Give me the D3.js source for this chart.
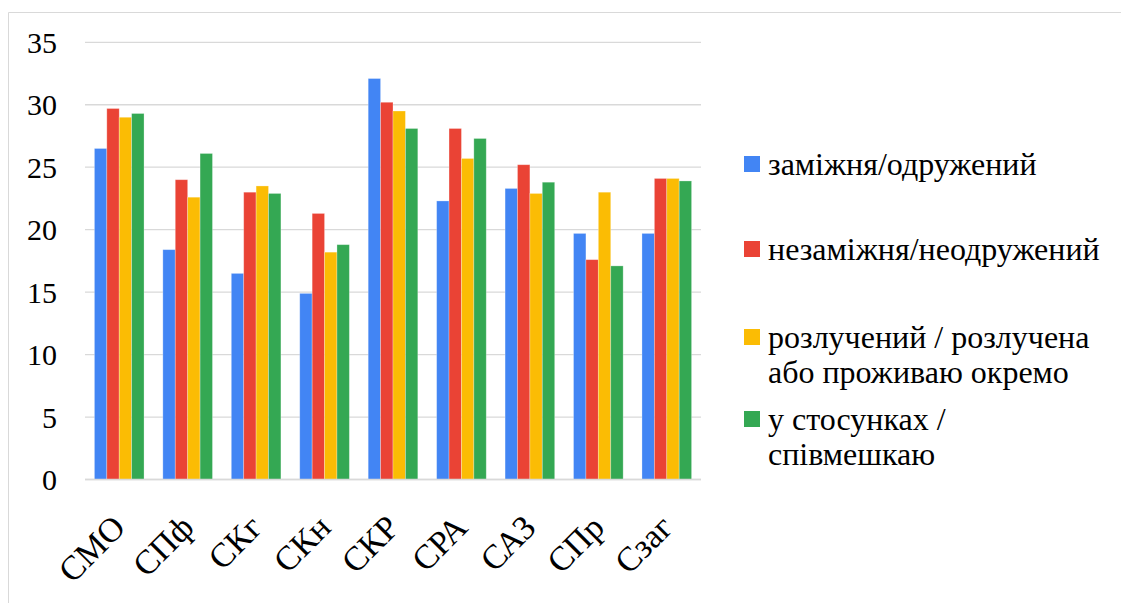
<!DOCTYPE html>
<html>
<head>
<meta charset="utf-8">
<script src="https://cdn.jsdelivr.net/npm/d3@7"></script>
<style>
  html, body { margin: 0; padding: 0; background: #fff; }
  svg { display: block; }
</style>
</head>
<body>
<svg id="chart" width="1121" height="603"></svg>
<script>
// Categories along the x axis
const categories = ["СМО", "СПф", "СКг", "СКн", "СКР", "СРА", "САЗ", "СПр", "Сзаг"];

// Series names (legend) — each entry split into display lines
const seriesNames = [
  ["заміжня/одружений"],
  ["незаміжня/неодружений"],
  ["розлучений / розлучена", "або проживаю окремо"],
  ["у стосунках /", "співмешкаю"]
];

// Series values, one per category
const married     = [26.5, 18.4, 16.5, 14.9, 32.1, 22.3, 23.3, 19.7, 19.7];
const unmarried   = [29.7, 24.0, 23.0, 21.3, 30.2, 28.1, 25.2, 17.6, 24.1];
const divorced    = [29.0, 22.6, 23.5, 18.2, 29.5, 25.7, 22.9, 23.0, 24.1];
const cohabiting  = [29.3, 26.1, 22.9, 18.8, 28.1, 27.3, 23.8, 17.1, 23.9];

// Y axis ticks
const yTicks = [0, 5, 10, 15, 20, 25, 30, 35];

const seriesValues = [married, unmarried, divorced, cohabiting];
const colors = ["#4285F4", "#EA4335", "#FBBC04", "#34A853"];
const FONT = 'Tinos, "Liberation Serif", "Times New Roman", serif';

const svg = d3.select("#chart").attr("font-family", FONT);

// Chart frame (top and left edges)
svg.append("line").attr("x1", 8.5).attr("x2", 1121).attr("y1", 12.5).attr("y2", 12.5)
  .attr("stroke", "#d9d9d9").attr("stroke-width", 1);
svg.append("line").attr("x1", 8.5).attr("x2", 8.5).attr("y1", 12.5).attr("y2", 603)
  .attr("stroke", "#d9d9d9").attr("stroke-width", 1);

const plot = { left: 85, right: 701, top: 42.3, bottom: 479.5 };

const x0 = d3.scaleBand().domain(categories).range([plot.left, plot.right]).paddingInner(0.275).paddingOuter(0.1375);
const x1 = d3.scaleBand().domain(d3.range(seriesValues.length)).range([0, x0.bandwidth()]);
const y = d3.scaleLinear().domain([0, 35]).range([plot.bottom, plot.top]);

// Horizontal gridlines
svg.append("g").selectAll("line").data(yTicks).join("line")
  .attr("x1", plot.left).attr("x2", plot.right)
  .attr("y1", d => y(d)).attr("y2", d => y(d))
  .attr("stroke", "#d9d9d9").attr("stroke-width", 1.3);

// Y axis labels
const yAxis = svg.append("g").attr("transform", `translate(${plot.left},0)`)
  .call(d3.axisLeft(y).tickValues(yTicks).tickSize(0).tickPadding(28));
yAxis.attr("font-family", FONT);
yAxis.select(".domain").remove();
yAxis.selectAll("text").style("font-family", FONT)
  .style("font-size", "30px").attr("fill", "#000").attr("dy", "0.34em");

// Bars
const groups = svg.append("g").selectAll("g").data(categories).join("g")
  .attr("transform", d => `translate(${x0(d)},0)`);
groups.selectAll("rect")
  .data((c, ci) => seriesValues.map((vals, si) => ({ si, v: vals[ci] })))
  .join("rect")
  .attr("x", d => x1(d.si))
  .attr("width", x1.bandwidth())
  .attr("y", d => y(d.v))
  .attr("height", d => y(0) - y(d.v))
  .attr("fill", d => colors[d.si])
  .attr("stroke", "#ffffff").attr("stroke-opacity", 0.35).attr("stroke-width", 0.8);

// X axis baseline
svg.append("line").attr("x1", plot.left).attr("x2", plot.right)
  .attr("y1", y(0)).attr("y2", y(0)).attr("stroke", "#d9d9d9").attr("stroke-width", 1.3);

// X axis labels, rotated
const xAxis = svg.append("g").attr("transform", `translate(0,${plot.bottom})`)
  .call(d3.axisBottom(x0).tickSize(0).tickPadding(0));
xAxis.attr("font-family", FONT);
xAxis.select(".domain").remove();
xAxis.selectAll("text")
  .style("font-family", FONT)
  .style("font-size", "34px").attr("fill", "#000")
  .attr("text-anchor", "end")
  .attr("dy", null).attr("y", 0)
  .attr("transform", "translate(8,50) rotate(-45)");

// Legend
const legendX = 744;
const legendBaselines = [175, 260, 348, 430];
const lineGap = 35;
const legend = svg.append("g").selectAll("g").data(seriesNames).join("g")
  .attr("transform", (d, i) => `translate(${legendX},${legendBaselines[i]})`);
legend.append("rect").attr("x", 0).attr("y", -19).attr("width", 16).attr("height", 16)
  .attr("fill", (d, i) => colors[i]);
legend.append("text").attr("x", 24).attr("y", 0)
  .style("font-family", FONT)
  .style("font-size", "32px").attr("fill", "#000")
  .selectAll("tspan").data(d => d).join("tspan")
  .attr("x", 24).attr("dy", (d, i) => i === 0 ? 0 : lineGap)
  .text(d => d);
</script>
</body>
</html>
